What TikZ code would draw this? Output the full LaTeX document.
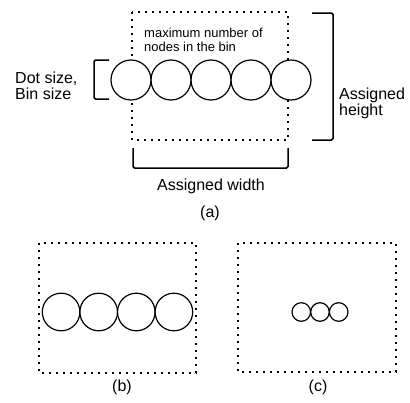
\documentclass[tikz,border=0pt]{standalone}
\usepackage{fontspec}
\setmainfont{Liberation Sans}
\begin{document}
\begin{tikzpicture}[x=1pt,y=-1pt,
  binbox/.style={line width=1.7pt, dash pattern=on 1.7pt off 5.3pt},
  dotnode/.style={circle, draw, fill=white, line width=1.2pt, inner sep=0pt},
  bracket/.style={line width=1.5pt, rounded corners=1.5pt},
  lbl/.style={inner sep=0pt, font=\fontsize{16}{16}\selectfont},
  small/.style={inner sep=0pt, font=\fontsize{13}{14}\selectfont}]
\useasboundingbox (0,0) rectangle (410,402);
% ---- panel (a)
\draw[binbox] (132,12) rectangle (288,140);
\foreach \i/\x in {1/131,2/171,3/211,4/251,5/291}
  \node[dotnode, minimum size=40pt] (a\i) at (\x,80) {};
\node[small, anchor=base west] (max1) at (144,37) {maximum number of};
\node[small, anchor=base west] (max2) at (144,51) {nodes in the bin};
\draw[bracket] (109,60) -- (94,60) -- (94,99) -- (109,99);
\node[lbl, anchor=base west] (dot1) at (15,83) {Dot size,};
\node[lbl, anchor=base west] (dot2) at (15,99) {Bin size};
\draw[bracket] (312,13) -- (333,13) -- (333,140) -- (312,140);
\node[lbl, anchor=base west] (ah1) at (339,99) {Assigned};
\node[lbl, anchor=base west] (ah2) at (339,115) {height};
\draw[bracket] (133,148) -- (133,168) -- (288,168) -- (288,148);
\node[lbl, anchor=base] (aw) at (211,190) {Assigned width};
\node[lbl, anchor=base] (capa) at (210,217) {(a)};
% ---- panel (b)
\draw[binbox] (39,243) rectangle (196,373);
\foreach \i/\x in {1/61.1,2/98.7,3/136.3,4/173.9}
  \node[dotnode, minimum size=37.6pt] (b\i) at (\x,312) {};
\node[lbl, anchor=base] (capb) at (122,391) {(b)};
% ---- panel (c)
\draw[binbox] (238,243) rectangle (396,372);
\foreach \i/\x in {1/301.3,2/320,3/338.7}
  \node[dotnode, minimum size=18.6pt] (c\i) at (\x,312) {};
\node[lbl, anchor=base] (capc) at (318,391) {(c)};
\end{tikzpicture}
\end{document}
